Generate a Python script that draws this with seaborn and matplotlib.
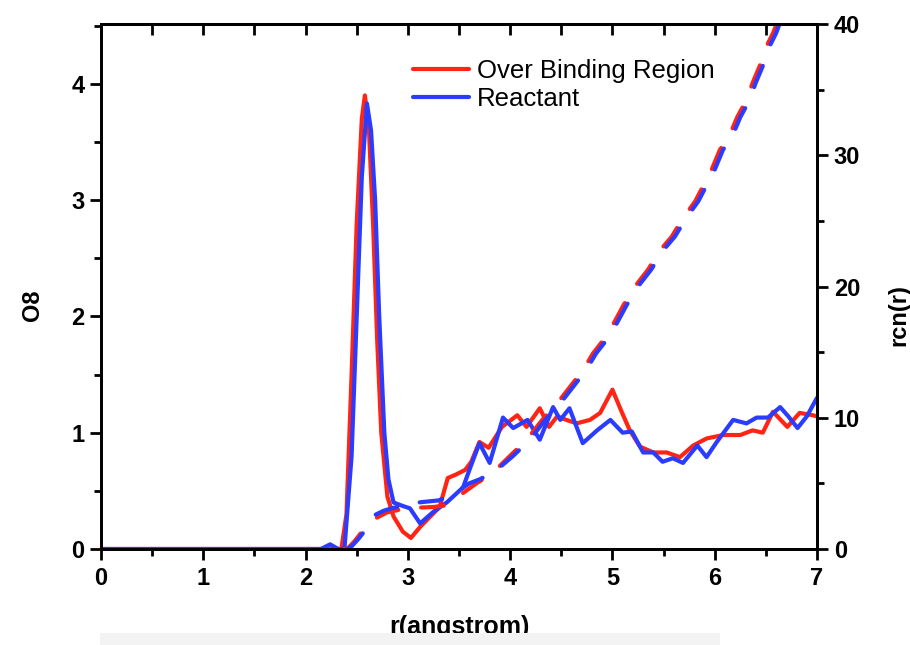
import matplotlib
matplotlib.use("Agg")
import matplotlib.pyplot as plt
from matplotlib.patches import Rectangle
from matplotlib.ticker import MultipleLocator
import seaborn as sns
import pandas as pd

# ---------------- data ----------------
r_red_g = [0, 0.5, 1.0, 1.5, 2.0, 2.2, 2.35, 2.40, 2.45, 2.50, 2.55, 2.58, 2.62, 2.66, 2.70, 2.74,
           2.80, 2.86, 2.95, 3.03, 3.12, 3.22, 3.31, 3.39, 3.47, 3.56, 3.62, 3.70, 3.79, 3.92, 4.07,
           4.16, 4.29, 4.38, 4.46, 4.55, 4.65, 4.78, 4.88, 5.0, 5.09, 5.17, 5.27, 5.4, 5.53, 5.66,
           5.79, 5.92, 6.08, 6.25, 6.37, 6.47, 6.57, 6.71, 6.83, 6.96, 7.0]
g_red = [0, 0, 0, 0, 0, 0, 0, 0.3, 1.5, 2.8, 3.7, 3.9, 3.6, 2.8, 1.8, 1.0,
         0.45, 0.28, 0.15, 0.095, 0.19, 0.28, 0.36, 0.61, 0.64, 0.68, 0.75, 0.92, 0.87, 1.05, 1.15,
         1.05, 1.21, 1.05, 1.14, 1.11, 1.08, 1.11, 1.17, 1.37, 1.18, 1.02, 0.88, 0.83, 0.83, 0.79,
         0.89, 0.95, 0.98, 0.98, 1.02, 1.0, 1.18, 1.05, 1.17, 1.15, 1.14]

r_blue_g = [0, 0.5, 1.0, 1.5, 2.0, 2.15, 2.24, 2.32, 2.38, 2.45, 2.50, 2.55, 2.60, 2.64, 2.68, 2.72,
            2.77, 2.81, 2.86, 2.95, 3.02, 3.12, 3.25, 3.38, 3.54, 3.61, 3.70, 3.80, 3.93, 4.03, 4.17,
            4.29, 4.42, 4.49, 4.58, 4.71, 4.85, 4.98, 5.1, 5.19, 5.3, 5.4, 5.49, 5.59, 5.69, 5.83,
            5.92, 6.02, 6.18, 6.31, 6.41, 6.52, 6.64, 6.72, 6.81, 6.9, 7.0]
g_blue = [0, 0, 0, 0, 0, 0, 0.04, 0, 0, 0.8, 2.0, 3.2, 3.83, 3.6, 3.0, 2.0,
          1.0, 0.6, 0.40, 0.37, 0.35, 0.22, 0.32, 0.40, 0.53, 0.70, 0.91, 0.74, 1.13, 1.04, 1.11,
          0.94, 1.22, 1.11, 1.21, 0.91, 1.02, 1.11, 1.0, 1.01, 0.83, 0.83, 0.75, 0.78, 0.74, 0.89,
          0.79, 0.92, 1.11, 1.08, 1.13, 1.13, 1.22, 1.14, 1.04, 1.14, 1.30]

r_red_n = [2.38, 2.42, 2.48, 2.55, 2.62, 2.70, 2.80, 2.95, 3.10, 3.25, 3.35, 3.51, 3.67, 3.83,
           4.00, 4.16, 4.31, 4.45, 4.58, 4.71, 4.81, 4.94, 5.02, 5.11, 5.22, 5.35, 5.46, 5.58,
           5.69, 5.81, 5.89, 5.97, 6.05, 6.15, 6.22, 6.31, 6.37, 6.44, 6.50, 6.57, 6.70, 7.0]
n_red = [0, 0.1, 0.6, 1.3, 1.9, 2.4, 2.8, 3.05, 3.15, 3.2, 3.3, 4.1, 5.0, 5.8,
         7.1, 8.3, 9.8, 11.0, 12.3, 13.6, 14.9, 16.2, 17.3, 18.6, 20.0, 21.3, 22.7, 23.8,
         25.2, 26.5, 27.7, 28.9, 30.4, 31.6, 32.9, 34.2, 35.5, 36.8, 38.2, 39.3, 41.8, 47.0]

r_blue_n = [2.40, 2.45, 2.52, 2.60, 2.68, 2.76, 2.84, 2.95, 3.05, 3.17, 3.30, 3.45, 3.60, 3.70,
            3.85, 4.03, 4.19, 4.34, 4.48, 4.61, 4.74, 4.84, 4.97, 5.05, 5.14, 5.25, 5.38, 5.49,
            5.61, 5.72, 5.84, 5.92, 6.00, 6.08, 6.18, 6.25, 6.34, 6.40, 6.47, 6.53, 6.60, 6.72, 7.0]
n_blue = [0, 0.2, 0.8, 1.6, 2.6, 2.9, 3.1, 3.3, 3.5, 3.6, 3.7, 4.2, 5.0, 5.3,
          5.9, 7.1, 8.3, 9.8, 11.0, 12.3, 13.6, 14.9, 16.2, 17.3, 18.6, 20.0, 21.3, 22.7,
          23.8, 25.2, 26.5, 27.7, 28.9, 30.4, 31.6, 32.9, 34.2, 35.5, 36.8, 38.2, 39.3, 41.8, 46.5]

series_names = ["Over Binding Region", "Reactant"]
x_ticks = [0, 1, 2, 3, 4, 5, 6, 7]
left_ticks = [0, 1, 2, 3, 4]
right_ticks = [0, 10, 20, 30, 40]

RED = "#ff2414"
BLUE = "#2a3cff"
LW = 3.0

# ---------------- style ----------------
sns.set_style("ticks")
plt.rcParams["font.family"] = ["Liberation Sans", "DejaVu Sans"]
plt.rcParams.update({
    "axes.linewidth": 2.0,
    "axes.edgecolor": "black",
    "axes.labelcolor": "black",
    "text.color": "black",
    "xtick.color": "black",
    "ytick.color": "black",
})

fig = plt.figure(figsize=(9.1, 6.45), dpi=100)
ax = fig.add_axes([101 / 910, 1 - 549 / 645, 716 / 910, 525 / 645])
ax2 = ax.twinx()

df_red = pd.DataFrame({"r": r_red_g, "g": g_red})
df_blue = pd.DataFrame({"r": r_blue_g, "g": g_blue})
df_red_n = pd.DataFrame({"r": r_red_n, "n": n_red})
df_blue_n = pd.DataFrame({"r": r_blue_n, "n": n_blue})

sns.lineplot(data=df_red, x="r", y="g", ax=ax, color=RED, lw=LW, label=series_names[0],
             sort=False, estimator=None)
sns.lineplot(data=df_blue, x="r", y="g", ax=ax, color=BLUE, lw=LW, label=series_names[1],
             sort=False, estimator=None)
sns.lineplot(data=df_red_n, x="r", y="n", ax=ax2, color=RED, lw=LW, sort=False, estimator=None,
             legend=False)
sns.lineplot(data=df_blue_n, x="r", y="n", ax=ax2, color=BLUE, lw=LW, sort=False, estimator=None,
             legend=False)
for ln in ax2.get_lines():
    ln.set_linestyle((0, (5.5, 5.5)))
    ln.set_dash_capstyle("round")
for ln in ax.get_lines():
    ln.set_solid_joinstyle("round")

ax.set_xlim(0, 7)
ax.set_ylim(0, 4.514)
ax2.set_ylim(0, 40)

ax.set_xticks(x_ticks)
ax.set_yticks(left_ticks)
ax2.set_yticks(right_ticks)
ax.xaxis.set_minor_locator(MultipleLocator(0.5))
ax.yaxis.set_minor_locator(MultipleLocator(0.5))
ax2.yaxis.set_minor_locator(MultipleLocator(5))

tick_font = dict(fontsize=17, fontweight="bold", color="black")
ax.set_xticklabels([str(t) for t in x_ticks], **tick_font)
ax.set_yticklabels([str(t) for t in left_ticks], **tick_font)
ax2.set_yticklabels([str(t) for t in right_ticks], **tick_font)

ax.tick_params(axis="x", which="both", bottom=True, top=False, direction="out", width=2, pad=5)
ax.tick_params(axis="x", which="major", length=8)
ax.tick_params(axis="x", which="minor", length=5)
ax.tick_params(axis="y", which="both", left=True, right=False, direction="out", width=2, pad=4)
ax.tick_params(axis="y", which="major", length=8)
ax.tick_params(axis="y", which="minor", length=5)
ax2.tick_params(axis="y", which="both", right=True, direction="out", width=2, pad=4)
ax2.tick_params(axis="y", which="major", length=8)
ax2.tick_params(axis="y", which="minor", length=5)

# top spine ticks pointing inward (secondary x axis)
secx = ax.secondary_xaxis("top")
secx.set_xticks(x_ticks)
secx.xaxis.set_minor_locator(MultipleLocator(0.5))
secx.tick_params(axis="x", which="both", direction="in", length=8, width=2, labeltop=False)

for sp in ax.spines.values():
    sp.set_visible(True)
    sp.set_linewidth(2.0)
    sp.set_color("black")
for sp in ax2.spines.values():
    sp.set_linewidth(2.0)
    sp.set_color("black")

ax.set_xlabel("r(angstrom)", fontsize=18, fontweight="bold")
ax.xaxis.set_label_coords(0.5, -0.162)
ax.xaxis.label.set_va("baseline")
ax.set_ylabel("O8", fontsize=17, fontweight="bold")
ax.yaxis.set_label_coords(-0.080, 0.465)
ax2.set_ylabel("rcn(r)", fontsize=17, fontweight="bold")
ax2.yaxis.set_label_coords(1.098, 0.446)

# partly clipped outer label at the left edge, as in the reference
fig.text(-0.013, 1 - 280 / 645, "g(r)", rotation=90, fontsize=17, fontweight="bold",
         ha="center", va="center")

leg = ax.legend(loc="upper left", bbox_to_anchor=(0.421, 0.952), frameon=False,
                fontsize=18.5, handlelength=2.2, handletextpad=0.3, labelspacing=0.15,
                borderaxespad=0)
for h in leg.get_lines():
    h.set_linewidth(LW)
for t in leg.get_texts():
    t.set_color("black")

fig.add_artist(Rectangle((100 / 910, 0), 620 / 910, 12 / 645, transform=fig.transFigure,
                         facecolor="#f3f3f3", edgecolor="none", zorder=10))

fig.savefig("out.png", dpi=100)
